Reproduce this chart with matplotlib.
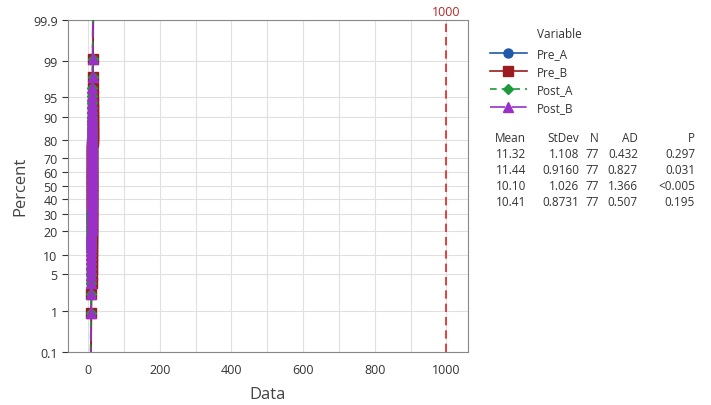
import numpy as np
import matplotlib.pyplot as plt
from statistics import NormalDist

plt.rcParams['font.family'] = ['Open Sans', 'DejaVu Sans']

# data: observed values and how many times each occurs (n = 77 per variable)
pre_a_vals = [9.0, 9.5, 10.0, 10.5, 11.0, 11.5, 12.0, 12.5, 13.0, 13.5, 14.0]
pre_a_cnt = [2, 3, 6, 9, 14, 13, 12, 8, 5, 3, 2]
pre_b_vals = [9.5, 10.0, 10.5, 11.0, 11.5, 12.0, 12.5, 13.0, 13.5]
pre_b_cnt = [2, 4, 8, 15, 18, 14, 9, 5, 2]
post_a_vals = [8.0, 8.5, 9.0, 9.5, 10.0, 10.5, 11.0, 11.5, 12.0, 12.5]
post_a_cnt = [2, 4, 7, 12, 16, 14, 10, 6, 4, 2]
post_b_vals = [8.5, 9.0, 9.5, 10.0, 10.5, 11.0, 11.5, 12.0, 12.5]
post_b_cnt = [2, 4, 9, 15, 18, 14, 8, 5, 2]

variables = ['Pre_A', 'Pre_B', 'Post_A', 'Post_B']
means = [11.32, 11.44, 10.10, 10.41]
stdevs = [1.108, 0.9160, 1.026, 0.8731]
stdev_txt = ['1.108', '0.9160', '1.026', '0.8731']
n_obs = [77, 77, 77, 77]
ad_txt = ['0.432', '0.827', '1.366', '0.507']
p_txt = ['0.297', '0.031', '<0.005', '0.195']
ref_x = 1000

pct_ticks = [0.1, 1, 5, 10, 20, 30, 40, 50, 60, 70, 80, 90, 95, 99, 99.9]
pct_labels = ['0.1', '1', '5', '10', '20', '30', '40', '50', '60', '70', '80', '90', '95', '99', '99.9']

colors = ['#1f5aa8', '#9b1b1e', '#1e9a3a', '#9b30c8']
markers = ['o', 's', 'D', '^']
msizes = [6.5, 6.5, 5.5, 6.5]
dashes = [None, None, (4, 3), (9, 4)]

nd = NormalDist()
def z(p):
    return nd.inv_cdf(p / 100.0)

fig = plt.figure(figsize=(7.11, 4.06), dpi=100)
ax = fig.add_axes([68/711, 1 - 352.7/406, 400/711, 332/406])

series = [(pre_a_vals, pre_a_cnt), (pre_b_vals, pre_b_cnt),
          (post_a_vals, post_a_cnt), (post_b_vals, post_b_cnt)]
zline = np.linspace(-3.3, 3.3, 50)
for k, (vals, cnt) in enumerate(series):
    x = np.sort(np.repeat(vals, cnt))
    n = len(x)
    ranks = (np.arange(1, n + 1) - 0.3) / (n + 0.4) * 100
    zz = [z(r) for r in ranks]
    ax.plot(x, zz, linestyle='none', marker=markers[k], color=colors[k],
            ms=msizes[k], zorder=3 + k)
    # fitted normal line
    ln, = ax.plot(means[k] + stdevs[k] * zline, zline, color=colors[k], lw=1.2,
                  zorder=3 + k)
    if dashes[k] is not None:
        ln.set_dashes(dashes[k])

ax.axvline(ref_x, color='#e3231f', lw=1.2, dashes=(5, 3), zorder=2)
ax.text(ref_x, 1.006, '1000', transform=ax.get_xaxis_transform(), ha='center',
        va='bottom', color='#b52a2a', fontsize=9)

ax.set_xlim(-56, 1060)
ax.set_ylim(z(0.1), z(99.9))
ax.set_yticks([z(p) for p in pct_ticks])
ax.set_yticklabels(pct_labels)
ax.set_xticks([0, 200, 400, 600, 800, 1000])
ax.set_xticks(np.arange(100, 1000, 200), minor=True)
ax.tick_params(axis='x', which='both', length=0, labelsize=9, pad=8, colors='#333333')
ax.tick_params(axis='y', length=4, labelsize=9, colors='#333333', width=0.8)
ax.grid(True, which='both', color='#e0e0e0', lw=0.8)
ax.set_axisbelow(True)
for s in ax.spines.values():
    s.set_color('#888888')
ax.set_xlabel('Data', fontsize=12, color='#444444', labelpad=7)
ax.set_ylabel('Percent', fontsize=12, color='#444444', labelpad=3)

# legend
legend_handles = []
for k in range(4):
    h, = ax.plot([], [], color=colors[k], marker=markers[k], lw=1.2, ms=msizes[k])
    if dashes[k] is not None:
        h.set_dashes(dashes[k])
    legend_handles.append(h)
fig.text(537/711, 1 - 35/406, 'Variable', fontsize=8.5, color='#333333',
         ha='left', va='center')
fig.legend(legend_handles, variables, loc='upper left',
           bbox_to_anchor=(490/711, 1 - 48/406), frameon=False, fontsize=8.5,
           handlelength=3.1, handletextpad=0.9, labelspacing=0.42,
           borderaxespad=0, borderpad=0, labelcolor='#333333')

# statistics table
col_right = [526, 579, 599, 638, 695]
header = ['Mean', 'StDev', 'N', 'AD', 'P']
row_y = [139, 155, 171, 187, 203]
for c, h in enumerate(header):
    fig.text(col_right[c]/711, 1 - row_y[0]/406, h, ha='right', va='center',
             fontsize=8.5, color='#333333')
for r in range(4):
    cells = ['%.2f' % means[r], stdev_txt[r], str(n_obs[r]), ad_txt[r], p_txt[r]]
    for c, t in enumerate(cells):
        fig.text(col_right[c]/711, 1 - row_y[r + 1]/406, t, ha='right', va='center',
                 fontsize=8.5, color='#333333')

fig.savefig('out.png', dpi=100)
